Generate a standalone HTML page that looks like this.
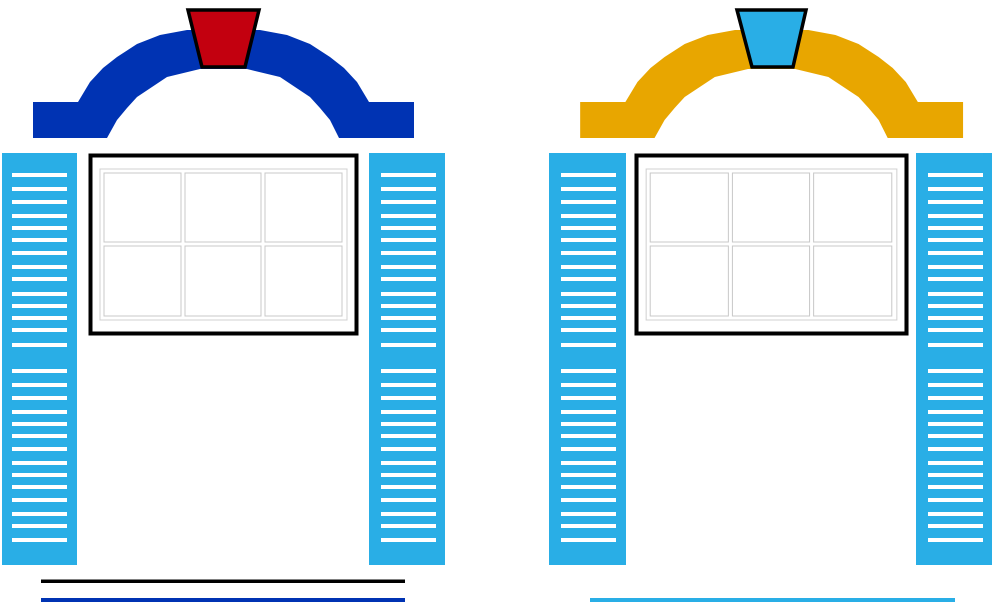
<!DOCTYPE html>
<html><head><meta charset="utf-8"><style>html,body{margin:0;padding:0;background:#fff}svg{display:block}</style></head>
<body>
<svg width="1000" height="608" viewBox="0 0 1000 608" xmlns="http://www.w3.org/2000/svg">
<defs>
<polygon id="A" points="33,102 78,102 90,82 103,68 117,57 137,44 160,35 187,30 260,30 287,35 310,44 330,57 344,68 357,82 369,102 414,102 414,138 339,138 330,120 320,108 310,97 280,77 247,69 200,69 167,77 137,97 127,108 117,120 107,138 33,138"/>
</defs>
<!-- LEFT -->
<use href="#A" fill="#0033b3"/>
<polygon fill="#c3000f" stroke="#000" stroke-width="3.5" points="188,10 259,10 245,67 202,67"/>
<rect x="2" y="153" width="75" height="412" fill="#29aee6"/>
<rect x="369" y="153" width="76" height="412" fill="#29aee6"/>
<g fill="#fff" id="L">
<rect x="12" y="173" width="55" height="4"/><rect x="12" y="187" width="55" height="4"/><rect x="12" y="200" width="55" height="4"/><rect x="12" y="214" width="55" height="4"/><rect x="12" y="226" width="55" height="4"/><rect x="12" y="238" width="55" height="4"/><rect x="12" y="251" width="55" height="4"/><rect x="12" y="265" width="55" height="4"/><rect x="12" y="277" width="55" height="4"/><rect x="12" y="292" width="55" height="4"/><rect x="12" y="304" width="55" height="4"/><rect x="12" y="316" width="55" height="4"/><rect x="12" y="328" width="55" height="4"/><rect x="12" y="343" width="55" height="4"/>
<rect x="12" y="369" width="55" height="4"/><rect x="12" y="383" width="55" height="4"/><rect x="12" y="396" width="55" height="4"/><rect x="12" y="410" width="55" height="4"/><rect x="12" y="422" width="55" height="4"/><rect x="12" y="434" width="55" height="4"/><rect x="12" y="447" width="55" height="4"/><rect x="12" y="461" width="55" height="4"/><rect x="12" y="473" width="55" height="4"/><rect x="12" y="485" width="55" height="4"/><rect x="12" y="498" width="55" height="4"/><rect x="12" y="512" width="55" height="4"/><rect x="12" y="524" width="55" height="4"/><rect x="12" y="538" width="55" height="4"/>
</g>
<use href="#L" x="369"/>
<g id="W">
<rect x="90.5" y="155.5" width="266" height="178" fill="#fff" stroke="#000" stroke-width="4"/>
<rect x="100" y="169" width="247" height="151" fill="none" stroke="#d0d0d0" stroke-width="1"/>
<g fill="none" stroke="#c8c8c8" stroke-width="1">
<rect x="104" y="173" width="77" height="69"/><rect x="185" y="173" width="76" height="69"/><rect x="265" y="173" width="77" height="69"/>
<rect x="104" y="246" width="77" height="70"/><rect x="185" y="246" width="76" height="70"/><rect x="265" y="246" width="77" height="70"/>
</g>
</g>
<rect x="41" y="579.5" width="364" height="3.5" fill="#000"/>
<rect x="41" y="598" width="364" height="4" fill="#0033b3"/>
<!-- RIGHT -->
<g transform="translate(547,0)">
<use href="#A" fill="#e8a600" transform="translate(0,0) scale(1.005,1)"/>
<polygon fill="#29aee6" stroke="#000" stroke-width="3.5" points="190,10 259,10 246,67 205,67"/>
</g>
<rect x="549" y="153" width="77" height="412" fill="#29aee6"/>
<rect x="916" y="153" width="76" height="412" fill="#29aee6"/>
<use href="#L" x="549"/>
<use href="#L" x="916"/>
<g transform="translate(636,0) scale(1.015,1) translate(-90,0)">
<use href="#W"/>
</g>
<rect x="590" y="598" width="365" height="4" fill="#29aee6"/>
</svg>
</body></html>
